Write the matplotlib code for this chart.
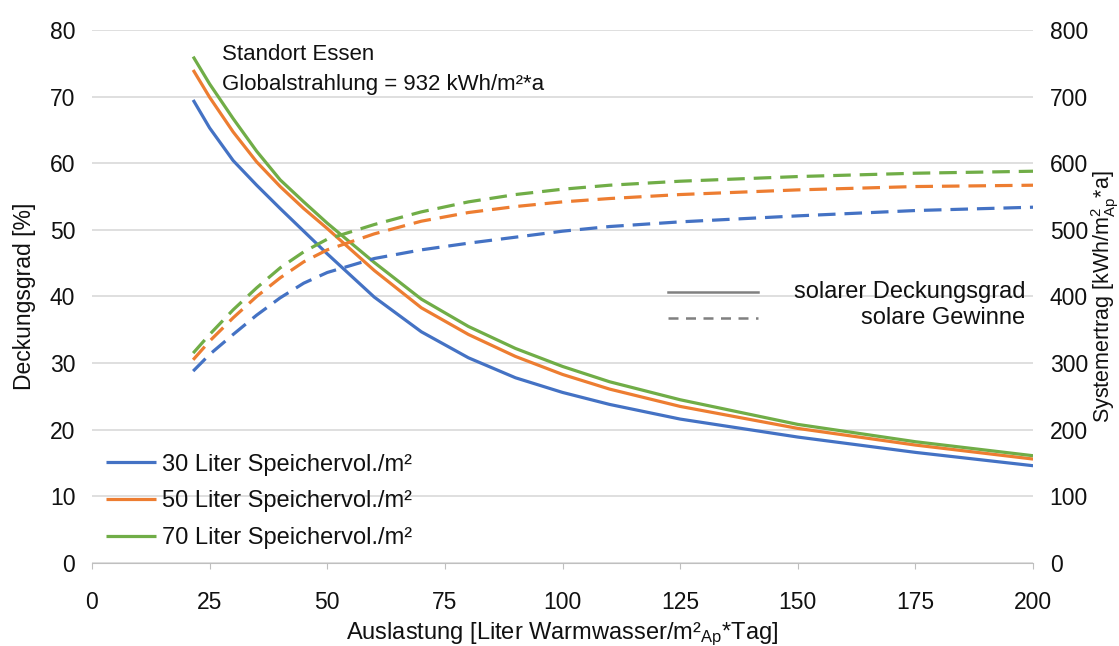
import matplotlib
matplotlib.use("Agg")
import matplotlib.pyplot as plt
from matplotlib.lines import Line2D

plt.rcParams['font.family'] = ['Liberation Sans', 'DejaVu Sans']
plt.rcParams['mathtext.fontset'] = 'custom'
plt.rcParams['mathtext.rm'] = 'Liberation Sans'
plt.rcParams['mathtext.it'] = 'Liberation Sans:italic'

# ---- data ----
auslastung = [21.5, 25, 30, 35, 40, 45, 50, 60, 70, 80, 90, 100, 110, 125, 150, 175, 200]

deckung_30 = [69.5, 65.3, 60.4, 56.7, 53.2, 49.8, 46.4, 39.9, 34.7, 30.8, 27.8, 25.6, 23.8, 21.6, 18.9, 16.6, 14.6]
deckung_50 = [74.0, 69.9, 64.7, 60.2, 56.5, 53.2, 50.2, 43.9, 38.3, 34.3, 31.0, 28.3, 26.1, 23.5, 20.2, 17.7, 15.6]
deckung_70 = [76.0, 71.9, 66.7, 61.8, 57.5, 54.2, 51.0, 45.1, 39.6, 35.5, 32.2, 29.5, 27.2, 24.5, 20.8, 18.2, 16.1]

gewinn_30 = [288, 313, 343, 372, 398, 420, 436, 457, 470, 480, 489, 498, 505, 512, 521, 529, 534]
gewinn_50 = [305, 333, 368, 400, 428, 452, 470, 494, 513, 526, 535, 542, 547, 553, 560, 565, 567]
gewinn_70 = [315, 343, 380, 413, 443, 467, 486, 508, 527, 542, 553, 561, 567, 573, 580, 585, 588]

labels = ['30 Liter Speichervol./m²', '50 Liter Speichervol./m²', '70 Liter Speichervol./m²']
colors = ['#4472C4', '#ED7D31', '#70AD47']

xticks = [0, 25, 50, 75, 100, 125, 150, 175, 200]
yticks_left = [0, 10, 20, 30, 40, 50, 60, 70, 80]
yticks_right = [0, 100, 200, 300, 400, 500, 600, 700, 800]

# ---- figure ----
fig = plt.figure(figsize=(11.19, 6.46), dpi=100)
ax = fig.add_axes([0.0822, 0.1285, 0.8410, 0.8251])
ax2 = ax.twinx()

grid_c = '#D9D9D9'
for a in (ax, ax2):
    for s in ('top', 'left', 'right'):
        a.spines[s].set_visible(False)
ax.spines['bottom'].set_color('#BFBFBF')
ax2.spines['bottom'].set_visible(False)

ax.set_xlim(0, 200)
ax.set_ylim(0, 80)
ax2.set_ylim(0, 800)
ax.set_xticks(xticks)
ax.set_yticks(yticks_left)
ax2.set_yticks(yticks_right)
ax.yaxis.grid(True, color=grid_c, lw=1.2)
ax.set_axisbelow(True)

tc = '#111111'
ax.tick_params(axis='x', direction='out', length=4, color='#BFBFBF', pad=16, labelsize=16.5, labelcolor=tc)
ax.tick_params(axis='y', length=0, pad=12, labelsize=16.5, labelcolor=tc)
ax2.tick_params(axis='y', length=0, pad=12, labelsize=16.5, labelcolor=tc)

deck = [deckung_30, deckung_50, deckung_70]
gew = [gewinn_30, gewinn_50, gewinn_70]
handles = []
for d, c, lab in zip(deck, colors, labels):
    h, = ax.plot(auslastung, d, color=c, lw=2.3, solid_capstyle='butt', label=lab)
    handles.append(h)
for g, c in zip(gew, colors):
    ax2.plot(auslastung, g, color=c, lw=2.3, dashes=(5.5, 2.8))

ax.set_xlabel('Auslastung [Liter Warmwasser/m²$_{\\mathrm{Ap}}$*Tag]', fontsize=17, labelpad=5, color=tc)
ax.set_ylabel('Deckungsgrad [%]', fontsize=16.5, labelpad=10, color=tc)
ax2.set_ylabel('Systemertrag [kWh/$\\mathrm{m}^{2}_{\\mathrm{Ap}}$*a]', fontsize=15.5, labelpad=1, color=tc)

leg = ax.legend(handles=handles, loc='lower left', bbox_to_anchor=(0.0, 0.0),
                frameon=False, fontsize=17, handlelength=2.1, handletextpad=0.25,
                labelspacing=0.62, borderaxespad=0.2)
for t in leg.get_texts():
    t.set_color(tc)
leg.set_zorder(5)

# style legend (line types)
ax.add_line(Line2D([0.612, 0.708], [0.508, 0.508], transform=ax.transAxes,
                   color='#808080', lw=1.8))
ax.add_line(Line2D([0.612, 0.708], [0.460, 0.460], transform=ax.transAxes,
                   color='#808080', lw=1.8, dashes=(4, 3)))
ax.text(0.9915, 0.508, 'solarer Deckungsgrad', transform=ax.transAxes,
        ha='right', va='center', fontsize=17, color=tc)
ax.text(0.9915, 0.460, 'solare Gewinne', transform=ax.transAxes,
        ha='right', va='center', fontsize=17, color=tc)

ax.text(0.138, 0.974, 'Standort Essen\nGlobalstrahlung = 932 kWh/m²*a', transform=ax.transAxes,
        ha='left', va='top', fontsize=16, color=tc, linespacing=1.55)

fig.savefig('out.png', dpi=100)
